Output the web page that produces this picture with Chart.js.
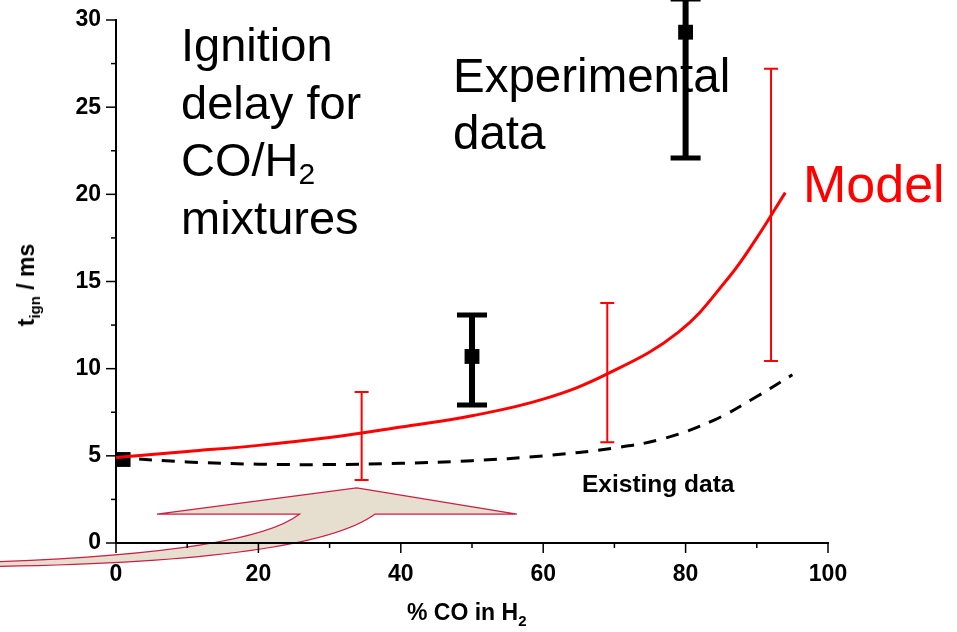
<!DOCTYPE html>
<html><head><meta charset="utf-8">
<script src="https://cdn.jsdelivr.net/npm/chart.js@4"></script>
<style>
html,body{margin:0;padding:0;background:#fff}
#wrap{position:relative;width:957px;height:632px;font-family:"Liberation Sans",Arial,sans-serif;overflow:hidden}
canvas{position:absolute;left:0;top:0}
.t{position:absolute;white-space:nowrap;color:#000}
.sub{position:relative;line-height:0}
</style></head><body>
<div id="wrap">
<canvas id="c" width="957" height="632"></canvas>
<div class="t" style="left:181px;top:16px;font-size:47px;line-height:57.5px">Ignition<br>delay for<br>CO/H<span class="sub" style="font-size:30px;top:8px">2</span><br>mixtures</div>
<div class="t" style="left:453px;top:47px;font-size:47.5px;line-height:57px">Experimental<br>data</div>
<div class="t" style="left:803px;top:158px;font-size:52px;line-height:52px;color:#ff0000">Model</div>
<div class="t" style="left:582px;top:472px;font-size:24.5px;line-height:24px;font-weight:bold">Existing data</div>
<div class="t" style="left:407px;top:601px;font-size:23px;line-height:22px;font-weight:bold">% CO in H<span class="sub" style="font-size:15px;top:6px">2</span></div>
<div class="t" style="left:26px;top:285px;font-size:23px;line-height:22px;font-weight:bold;transform:translate(-50%,-50%) rotate(-90deg)">t<span class="sub" style="font-size:15px;top:6px">ign</span> / ms</div>
</div>
<script>
// ---- data ----
const modelX = [0, 10, 20, 30, 40, 50, 60, 69, 79, 86, 90, 94];
const modelY = [4.9, 5.25, 5.6, 6.05, 6.65, 7.3, 8.25, 9.7, 12.1, 15.2, 17.5, 20.1];

const existingX = [0, 10, 20, 30, 40, 50, 60, 70, 77, 84, 90, 95];
const existingY = [4.9, 4.65, 4.52, 4.5, 4.57, 4.72, 5.0, 5.45, 6.0, 7.05, 8.4, 9.65];

const expX = [1, 50, 80];
const expY = [4.79, 10.7, 29.3];
const expLow = [4.79, 7.92, 22.08];
const expHigh = [4.79, 13.08, 31.2];

const modelErrX = [34.5, 69, 92];
const modelErrLow = [3.61, 5.78, 10.44];
const modelErrHigh = [8.66, 13.77, 27.2];

const xTickLabels = [0, 20, 40, 60, 80, 100];
const yTickLabels = [0, 5, 10, 15, 20, 25, 30];

const pts = (xs, ys) => xs.map((v, i) => ({x: v, y: ys[i]}));

// ---- plugins ----
const arrowPlugin = {
  id: 'arrow',
  beforeDraw(chart) {
    const {ctx, scales: {x, y}} = chart;
    const P = (a, b) => [x.getPixelForValue(a), y.getPixelForValue(b)];
    const tip = P(33.8, 3.16), lb = P(5.76, 1.66), ln = P(25.8, 1.66),
          rn = P(36.4, 1.66), rb = P(56.3, 1.66);
    const uc = P(18.82, -0.574), ue = P(-17.7, -1.09);
    const lc = P(27.25, -1.09), le = P(-17.7, -1.35);
    ctx.save();
    ctx.beginPath();
    ctx.moveTo(...tip);
    ctx.lineTo(...rb);
    ctx.lineTo(...rn);
    ctx.quadraticCurveTo(...lc, ...le);
    ctx.lineTo(...ue);
    ctx.quadraticCurveTo(...uc, ...ln);
    ctx.lineTo(...lb);
    ctx.closePath();
    ctx.fillStyle = '#e6dece';
    ctx.fill();
    ctx.lineWidth = 1.2;
    ctx.strokeStyle = '#cc1f45';
    ctx.stroke();
    ctx.restore();
  }
};

const ticksPlugin = {
  id: 'tickMarks',
  afterDatasetsDraw(chart) {
    const {ctx, scales: {x, y}, chartArea} = chart;
    ctx.save();
    ctx.strokeStyle = '#000';
    ctx.lineWidth = 1.5;
    x.ticks.forEach(t => {
      const px = x.getPixelForValue(t.value);
      const len = xTickLabels.includes(t.value) ? 10 : 5;
      ctx.beginPath();
      ctx.moveTo(px, chartArea.bottom);
      ctx.lineTo(px, chartArea.bottom + len);
      ctx.stroke();
    });
    y.ticks.forEach(t => {
      const py = y.getPixelForValue(t.value);
      const len = yTickLabels.includes(t.value) ? 10 : 5;
      ctx.beginPath();
      ctx.moveTo(chartArea.left, py);
      ctx.lineTo(chartArea.left - len, py);
      ctx.stroke();
    });
    ctx.restore();
  }
};

function drawBars(chart, xs, lo, hi, color, w, capHalf, capW) {
  const {ctx, scales: {x, y}} = chart;
  ctx.save();
  ctx.strokeStyle = color;
  ctx.lineCap = 'butt';
  xs.forEach((v, i) => {
    if (hi[i] <= lo[i]) return;
    const px = x.getPixelForValue(v);
    const p1 = y.getPixelForValue(lo[i]);
    const p2 = y.getPixelForValue(hi[i]);
    ctx.lineWidth = w;
    ctx.beginPath();
    ctx.moveTo(px, p1); ctx.lineTo(px, p2); ctx.stroke();
    ctx.lineWidth = capW;
    ctx.beginPath();
    ctx.moveTo(px - capHalf, p1); ctx.lineTo(px + capHalf, p1);
    ctx.moveTo(px - capHalf, p2); ctx.lineTo(px + capHalf, p2);
    ctx.stroke();
  });
  ctx.restore();
}

const errorPlugin = {
  id: 'errorBars',
  beforeDatasetsDraw(chart) {
    drawBars(chart, expX, expLow, expHigh, '#000', 6, 15, 5);
    drawBars(chart, modelErrX, modelErrLow, modelErrHigh, '#ff0000', 2, 7, 2);
  }
};

Chart.defaults.font.family = '"Liberation Sans", Arial, sans-serif';

new Chart(document.getElementById('c'), {
  type: 'scatter',
  data: {
    datasets: [
      {
        label: 'Model',
        data: pts(modelX, modelY),
        showLine: true,
        borderColor: '#ff0000',
        borderWidth: 3,
        pointRadius: 0,
        tension: 0.4,
        fill: false
      },
      {
        label: 'Existing data',
        data: pts(existingX, existingY),
        showLine: true,
        borderColor: '#000',
        borderWidth: 3,
        borderDash: [13, 10],
        pointRadius: 0,
        tension: 0.4,
        fill: false
      },
      {
        label: 'Experimental data',
        data: pts(expX, expY),
        showLine: false,
        pointStyle: 'rect',
        pointRadius: 10.5,
        backgroundColor: '#000',
        borderWidth: 0
      }
    ]
  },
  options: {
    responsive: false,
    animation: false,
    devicePixelRatio: 1,
    layout: {padding: {top: 20, right: 129, left: 0, bottom: 0}},
    plugins: {legend: {display: false}, tooltip: {enabled: false}},
    scales: {
      x: {
        type: 'linear', min: 0, max: 100,
        afterFit: s => { s.height = 89; },
        grid: {display: true, drawOnChartArea: false, drawTicks: true, tickLength: 10, tickColor: 'rgba(0,0,0,0)'},
        border: {display: true, color: '#000', width: 2},
        ticks: {
          stepSize: 10, autoSkip: false, maxRotation: 0, padding: 8, color: '#000',
          font: {size: 23, weight: 'bold'},
          callback: v => xTickLabels.includes(v) ? String(v) : ''
        }
      },
      y: {
        type: 'linear', min: 0, max: 30,
        afterFit: s => { s.width = 116; },
        grid: {display: true, drawOnChartArea: false, drawTicks: true, tickLength: 10, tickColor: 'rgba(0,0,0,0)'},
        border: {display: true, color: '#000', width: 2},
        ticks: {
          stepSize: 2.5, autoSkip: false, padding: 5, color: '#000',
          font: {size: 23, weight: 'bold'},
          callback: v => yTickLabels.includes(v) ? String(v) : ''
        }
      }
    }
  },
  plugins: [arrowPlugin, errorPlugin, ticksPlugin]
});
</script>
</body></html>
